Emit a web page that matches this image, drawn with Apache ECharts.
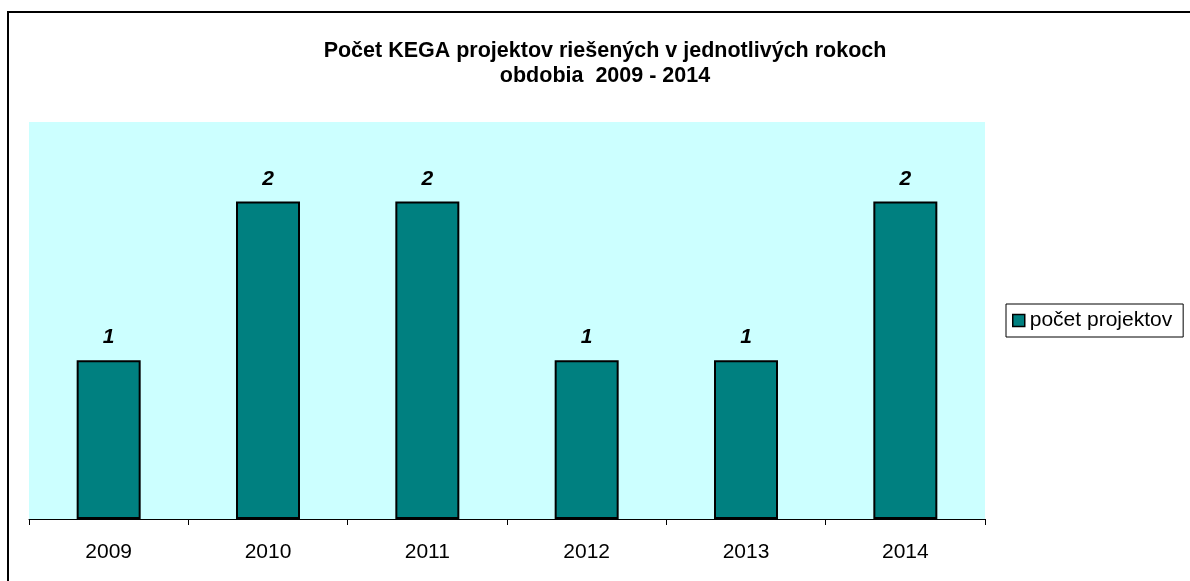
<!DOCTYPE html>
<html lang="sk" style="height: 100%">
<head>
    <meta charset="utf-8">
</head>
<body style="height: 100%; margin: 0; background: #fff">
<div id="container" style="width: 1190px; height: 581px"></div>

<script type="text/javascript" src="https://fastly.jsdelivr.net/npm/echarts@6/dist/echarts.min.js"></script>
<script type="text/javascript">
    var dom = document.getElementById('container');
    var myChart = echarts.init(dom, null, { renderer: 'canvas' });

    const years = ['2009', '2010', '2011', '2012', '2013', '2014'];
    const projectCounts = [1, 2, 2, 1, 1, 2];
    const seriesName = 'počet projektov';

    var option = {
        animation: false,
        textStyle: { fontFamily: 'Liberation Sans, Arial, sans-serif' },
        title: {
            text: 'Počet KEGA projektov riešených v jednotlivých rokoch\nobdobia  2009 - 2014',
            left: 600,
            textAlign: 'center',
            top: 34,
            textStyle: {
                fontSize: 21.5,
                fontWeight: 'bold',
                color: '#000',
                lineHeight: 25,
                fontFamily: 'Liberation Sans, Arial, sans-serif'
            }
        },
        legend: {
            data: [seriesName],
            left: 1006,
            top: 304,
            orient: 'vertical',
            icon: 'rect',
            itemWidth: 12,
            itemHeight: 12,
            itemGap: 0,
            padding: [6, 11, 6, 6],
            borderColor: '#000',
            borderWidth: 1,
            textStyle: { fontSize: 21, color: '#000' },
            itemStyle: { borderColor: '#000', borderWidth: 1.5 }
        },
        grid: {
            left: 29,
            right: 205,
            top: 122,
            bottom: 62,
            show: true,
            backgroundColor: '#CCFFFF',
            borderWidth: 0
        },
        xAxis: {
            type: 'category',
            data: years,
            axisLine: { lineStyle: { color: '#000', width: 1 } },
            axisTick: { show: true, length: 6, lineStyle: { color: '#000' } },
            axisLabel: { fontSize: 21, color: '#000', margin: 23 }
        },
        yAxis: {
            type: 'value',
            min: 0,
            max: 2.5,
            show: false,
            splitLine: { show: false }
        },
        series: [
            {
                name: seriesName,
                type: 'bar',
                data: projectCounts,
                barWidth: 64,
                itemStyle: { color: '#008080', borderColor: '#000', borderWidth: 2 },
                label: {
                    show: true,
                    position: 'top',
                    distance: 12,
                    fontSize: 21,
                    fontWeight: 'bold',
                    fontStyle: 'italic',
                    color: '#000'
                }
            }
        ],
        graphic: [
            {
                type: 'polyline',
                shape: { points: [[8, 581], [8, 12], [1190, 12]] },
                style: { stroke: '#000', lineWidth: 2, fill: null }
            }
        ]
    };

    myChart.setOption(option);
    window.addEventListener('resize', myChart.resize);
</script>
</body>
</html>
